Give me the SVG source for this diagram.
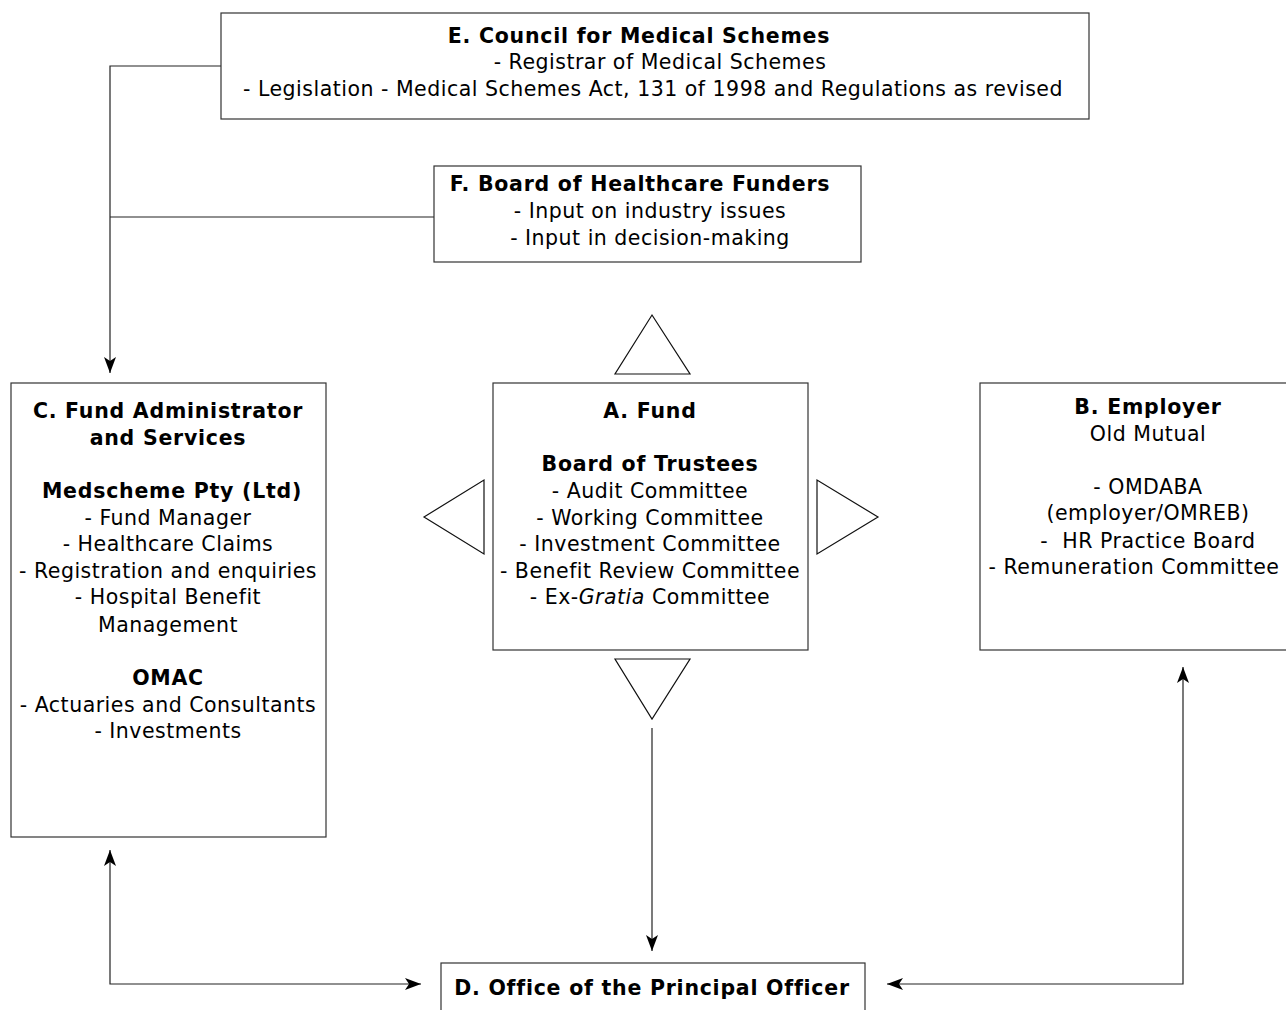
<svg xmlns="http://www.w3.org/2000/svg" width="1286" height="1010" viewBox="0 0 1286 1010">
<style>
.box{fill:#fff;stroke:#333;stroke-width:1.2}
.tri{fill:#fff;stroke:#111;stroke-width:1.2}
.ln{fill:none;stroke:#222;stroke-width:1.2}
text{font-family:"DejaVu Sans",Verdana,sans-serif;font-size:20.5px;letter-spacing:0.5px;fill:#000;text-anchor:middle}
.b{font-weight:bold;letter-spacing:0.75px}
</style>
<defs>
<marker id="ah" viewBox="0 0 16 12" refX="16" refY="6" markerWidth="16" markerHeight="12" markerUnits="userSpaceOnUse" orient="auto-start-reverse">
<path d="M0,0 L16,6 L0,12 L4,6 z" fill="#000"/>
</marker>
</defs>
<rect width="1286" height="1010" fill="#fff"/>
<g id="connectors">
<polyline class="ln" points="221,66 110,66 110,373" marker-end="url(#ah)"/>
<line class="ln" x1="434" y1="217" x2="110" y2="217"/>
<line class="ln" x1="652" y1="728" x2="652" y2="951" marker-end="url(#ah)"/>
<polyline class="ln" points="110,850 110,984 421,984" marker-start="url(#ah)" marker-end="url(#ah)"/>
<polyline class="ln" points="1183,667 1183,984 887,984" marker-start="url(#ah)" marker-end="url(#ah)"/>
</g>
<g id="node-E">
<rect class="box" x="221" y="13" width="868" height="106"/>
<text class="b" x="639" y="43">E. Council for Medical Schemes</text>
<text x="660" y="69">- Registrar of Medical Schemes</text>
<text x="653" y="96">- Legislation - Medical Schemes Act, 131 of 1998 and Regulations as revised</text>
</g>
<g id="node-F">
<rect class="box" x="434" y="166" width="427" height="96"/>
<text class="b" x="640" y="191">F. Board of Healthcare Funders</text>
<text x="650" y="218">- Input on industry issues</text>
<text x="650" y="245">- Input in decision-making</text>
</g>
<g id="node-C">
<rect class="box" x="11" y="383" width="315" height="454"/>
<text class="b" x="168" y="418">C. Fund Administrator</text>
<text class="b" x="168" y="445">and Services</text>
<text class="b" x="172" y="498">Medscheme Pty (Ltd)</text>
<text x="168" y="525">- Fund Manager</text>
<text x="168" y="551">- Healthcare Claims</text>
<text x="168" y="578">- Registration and enquiries</text>
<text x="168" y="604">- Hospital Benefit</text>
<text x="168" y="632">Management</text>
<text class="b" x="168" y="685">OMAC</text>
<text x="168" y="712">- Actuaries and Consultants</text>
<text x="168" y="738">- Investments</text>
</g>
<g id="node-A">
<rect class="box" x="493" y="383" width="315" height="267"/>
<text class="b" x="650" y="418">A. Fund</text>
<text class="b" x="650" y="471">Board of Trustees</text>
<text x="650" y="498">- Audit Committee</text>
<text x="650" y="525">- Working Committee</text>
<text x="650" y="551">- Investment Committee</text>
<text x="650" y="578">- Benefit Review Committee</text>
<text x="650" y="604">- Ex-<tspan font-style="italic">Gratia</tspan> Committee</text>
</g>
<g id="triangles">
<polygon class="tri" points="652,315 690,374 615,374"/>
<polygon class="tri" points="424,517 484,480 484,554"/>
<polygon class="tri" points="878,517 817,480 817,554"/>
<polygon class="tri" points="615,659 690,659 652,719"/>
</g>
<g id="node-B">
<rect class="box" x="980" y="383" width="320" height="267"/>
<text class="b" x="1148" y="414">B. Employer</text>
<text x="1148" y="441">Old Mutual</text>
<text x="1148" y="494">- OMDABA</text>
<text x="1148" y="520">(employer/OMREB)</text>
<text x="1148" y="548" xml:space="preserve">-  HR Practice Board</text>
<text x="1134" y="574">- Remuneration Committee</text>
</g>
<g id="node-D">
<rect class="box" x="441" y="963" width="424" height="60"/>
<text class="b" x="652" y="995">D. Office of the Principal Officer</text>
</g>
</svg>
